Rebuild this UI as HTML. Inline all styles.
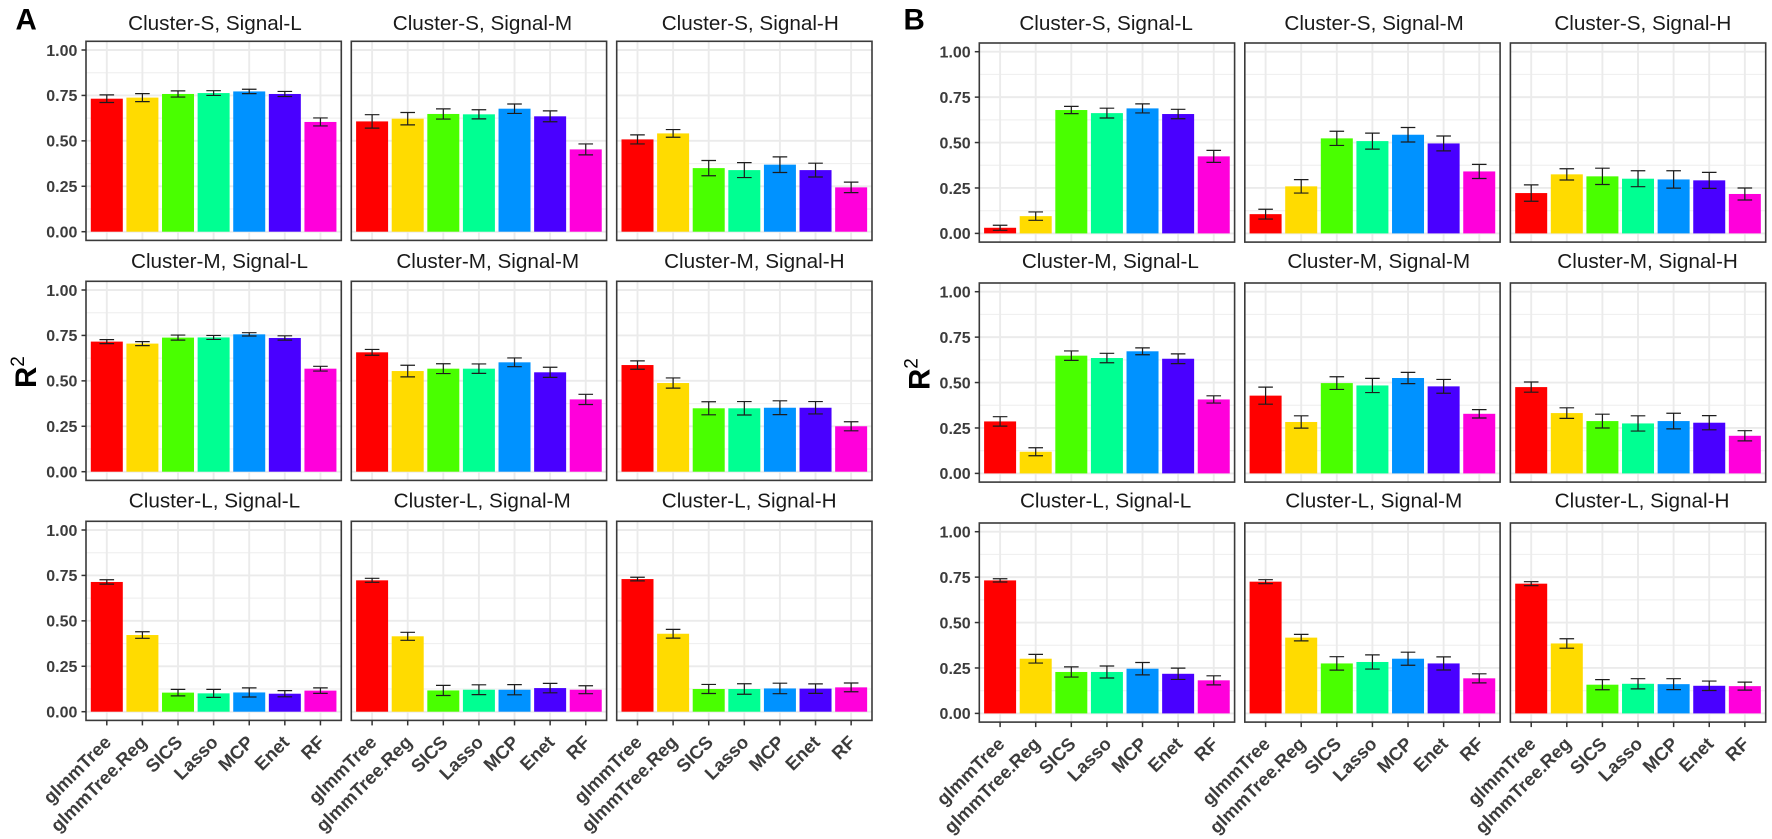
<!DOCTYPE html>
<html lang="en">
<head>
<meta charset="utf-8">
<title>R2 by method across cluster and signal settings</title>
<style>
  html, body { margin: 0; padding: 0; background: #fff; }
  svg { display: block; font-family: "Liberation Sans", Arial, sans-serif; }
</style>
</head>
<body>
<svg id="chart" width="1772" height="839" viewBox="0 0 1772 839" xmlns="http://www.w3.org/2000/svg"></svg>
<script>
const methods = ["glmmTree", "glmmTree.Reg", "SICS", "Lasso", "MCP", "Enet", "RF"];
const methodColors = ["#FF0000", "#FFDB00", "#49FF00", "#00FF92", "#0092FF", "#4900FF", "#FF00DB"];
const yTicks = [0, 0.25, 0.5, 0.75, 1];
const yTickLabels = ["0.00", "0.25", "0.50", "0.75", "1.00"];
const yMinorTicks = [0.125, 0.375, 0.625, 0.875];
const panelTitles = [
  ["Cluster-S, Signal-L", "Cluster-S, Signal-M", "Cluster-S, Signal-H"],
  ["Cluster-M, Signal-L", "Cluster-M, Signal-M", "Cluster-M, Signal-H"],
  ["Cluster-L, Signal-L", "Cluster-L, Signal-M", "Cluster-L, Signal-H"]
];

const valuesA = [
  [[.732,.738,.758,.763,.772,.758,.604], [.607,.622,.648,.646,.677,.635,.453], [.508,.541,.350,.339,.369,.339,.244]],
  [[.716,.705,.738,.739,.756,.736,.567], [.657,.554,.567,.567,.602,.547,.398], [.587,.488,.349,.349,.352,.352,.250]],
  [[.714,.422,.105,.101,.106,.099,.116], [.723,.415,.117,.121,.121,.130,.121], [.730,.429,.125,.125,.128,.127,.134]]
];
const errorsA = [
  [[.021,.022,.017,.013,.012,.014,.022], [.037,.034,.028,.025,.026,.030,.030], [.025,.021,.042,.041,.043,.038,.029]],
  [[.011,.011,.014,.011,.009,.012,.013], [.016,.032,.027,.026,.024,.028,.028], [.023,.028,.036,.037,.038,.034,.025]],
  [[.012,.018,.018,.022,.025,.017,.015], [.011,.022,.028,.027,.028,.026,.022], [.010,.024,.025,.029,.029,.026,.024]]
];
const valuesB = [
  [[.031,.095,.679,.662,.688,.657,.424], [.106,.259,.523,.508,.543,.495,.341], [.222,.325,.314,.301,.297,.292,.217]],
  [[.286,.119,.648,.635,.672,.631,.407], [.428,.283,.497,.484,.525,.479,.328], [.475,.332,.288,.275,.288,.279,.207]],
  [[.732,.301,.228,.228,.246,.218,.182], [.725,.417,.275,.283,.301,.275,.193], [.714,.385,.158,.163,.161,.152,.150]]
];
const errorsB = [
  [[.014,.023,.020,.027,.025,.026,.033], [.027,.037,.039,.044,.040,.041,.039], [.045,.031,.045,.044,.048,.044,.033]],
  [[.026,.022,.026,.026,.019,.027,.020], [.047,.034,.035,.039,.031,.038,.023], [.028,.029,.038,.042,.043,.039,.028]],
  [[.009,.024,.028,.033,.034,.031,.025], [.011,.018,.037,.039,.036,.036,.025], [.011,.026,.028,.028,.030,.026,.022]]
];

const SVG_NS = "http://www.w3.org/2000/svg";
const root = document.getElementById("chart");
const PANEL_W = 255.3;
const PANEL_PAD_TOP = 8.7;
const PLOT_H = 181.7;
const PANEL_PAD_BOTTOM = 8.7;
const UNIT = PANEL_W / 7.17;
const BAR_W = 32;
const CAP_W = 14.6;

function mk(parent, tag, attrs, text) {
  const el = document.createElementNS(SVG_NS, tag);
  for (const key in attrs) el.setAttribute(key, attrs[key]);
  if (text !== undefined) el.textContent = text;
  parent.appendChild(el);
  return el;
}

function slug(s) {
  return s.toLowerCase().replace(/[^a-z0-9]+/g, "-").replace(/^-|-$/g, "");
}

function drawFigure(fig) {
  const figure = mk(root, "g", {});
  
  

  const letter = mk(figure, "text", { x: fig.letterX, y: 29.3, "font-size": 29.5, "font-weight": "bold", fill: "#000" }, fig.letter);
  
  

  const yTitle = mk(figure, "text", {
    transform: "translate(" + fig.yTitleX + "," + fig.yTitleY + ") rotate(-90)",
    "font-size": 29.5, "font-weight": "bold", fill: "#000"
  }, "R");
  
  
  const sup = mk(yTitle, "tspan", { dx: 0, dy: -12, "font-size": 19, "font-weight": "normal" }, "2");
  
  

  fig.values.forEach(function (row, r) {
    row.forEach(function (vals, c) {
      const left = fig.lefts[c];
      const top = fig.tops[r];
      const y = function (v) { return top + PANEL_PAD_TOP + PLOT_H * (1 - v); };
      const x = function (i) { return left + 20.8 + UNIT * i; };
      const bottom = top + PANEL_PAD_TOP + PLOT_H + PANEL_PAD_BOTTOM;
      const right = left + PANEL_W;

      const panel = mk(figure, "g", {});
      
      

      const title = mk(panel, "text", {
        x: left + PANEL_W / 2 + fig.titleDx[r][c], y: fig.titleY[r],
        "text-anchor": "middle", "font-size": 20.7, fill: "#1a1a1a"
      }, panelTitles[r][c]);
      
      

      yMinorTicks.forEach(function (t) {
        const g = mk(panel, "line", { x1: left, x2: right, y1: y(t), y2: y(t), stroke: "#f0f0f0", "stroke-width": 1.2 });
        
        
      });
      yTicks.forEach(function (t) {
        const g = mk(panel, "line", { x1: left, x2: right, y1: y(t), y2: y(t), stroke: "#ebebeb", "stroke-width": 1.9 });
        
        
      });
      methods.forEach(function (m, i) {
        const g = mk(panel, "line", { x1: x(i), x2: x(i), y1: top, y2: bottom, stroke: "#ebebeb", "stroke-width": 1.9 });
        
        
      });

      vals.forEach(function (v, i) {
        const bar = mk(panel, "rect", {
          x: x(i) - BAR_W / 2, y: y(v), width: BAR_W, height: y(0) - y(v), fill: methodColors[i]
        });
        
        
      });

      vals.forEach(function (v, i) {
        const e = fig.errors[r][c][i];
        const hi = y(v + e), lo = y(v - e);
        const path = "M" + (x(i) - CAP_W / 2) + " " + hi + "H" + (x(i) + CAP_W / 2) +
                     "M" + x(i) + " " + hi + "V" + lo +
                     "M" + (x(i) - CAP_W / 2) + " " + lo + "H" + (x(i) + CAP_W / 2);
        const err = mk(panel, "path", { d: path, stroke: "#1c1c1c", "stroke-width": 1.2, fill: "none" });
        
        
      });

      const frame = mk(panel, "rect", {
        x: left, y: top, width: PANEL_W, height: bottom - top, fill: "none", stroke: "#3a3a3a", "stroke-width": 1.6
      });
      
      

      if (c === 0) {
        yTicks.forEach(function (t, k) {
          const tick = mk(panel, "line", { x1: left - 4.5, x2: left, y1: y(t), y2: y(t), stroke: "#333", "stroke-width": 1.5 });
          
          
          const lab = mk(panel, "text", {
            x: left - 8.6, y: y(t) + 5.8, "text-anchor": "end", "font-size": 16, "font-weight": "bold", fill: "#3c3c3c"
          }, yTickLabels[k]);
          
          
        });
      }

      if (r === fig.values.length - 1) {
        methods.forEach(function (m, i) {
          const tick = mk(panel, "line", { x1: x(i), x2: x(i), y1: bottom, y2: bottom + 5, stroke: "#333", "stroke-width": 1.5 });
          
          
          const lab = mk(panel, "text", {
            transform: "translate(" + (x(i) + 5.5) + "," + (bottom + 23) + ") rotate(-45)",
            "text-anchor": "end", "font-size": 18.4, "font-weight": "bold", fill: "#3c3c3c"
          }, m);
          
          
        });
      }
    });
  });
}

drawFigure({
  id: "a", letter: "A", letterX: 15.5, yTitleX: 36, yTitleY: 388,
  lefts: [86, 351.3, 616.7], tops: [41.3, 281.3, 521.3], titleY: [30, 268, 507.5],
  titleDx: [[1.3, 3.5, 5.9], [5.9, 8.8, 10], [0.8, 3.2, 4.8]],
  values: valuesA, errors: errorsA
});
drawFigure({
  id: "b", letter: "B", letterX: 903.5, yTitleX: 929.3, yTitleY: 390,
  lefts: [979.3, 1244.8, 1510.4], tops: [43, 283, 523], titleY: [30, 268, 507.5],
  titleDx: [[-0.8, 1.6, 4.8], [3.4, 6.3, 9.5], [-1.3, 1.3, 4]],
  values: valuesB, errors: errorsB
});
</script>
</body>
</html>
